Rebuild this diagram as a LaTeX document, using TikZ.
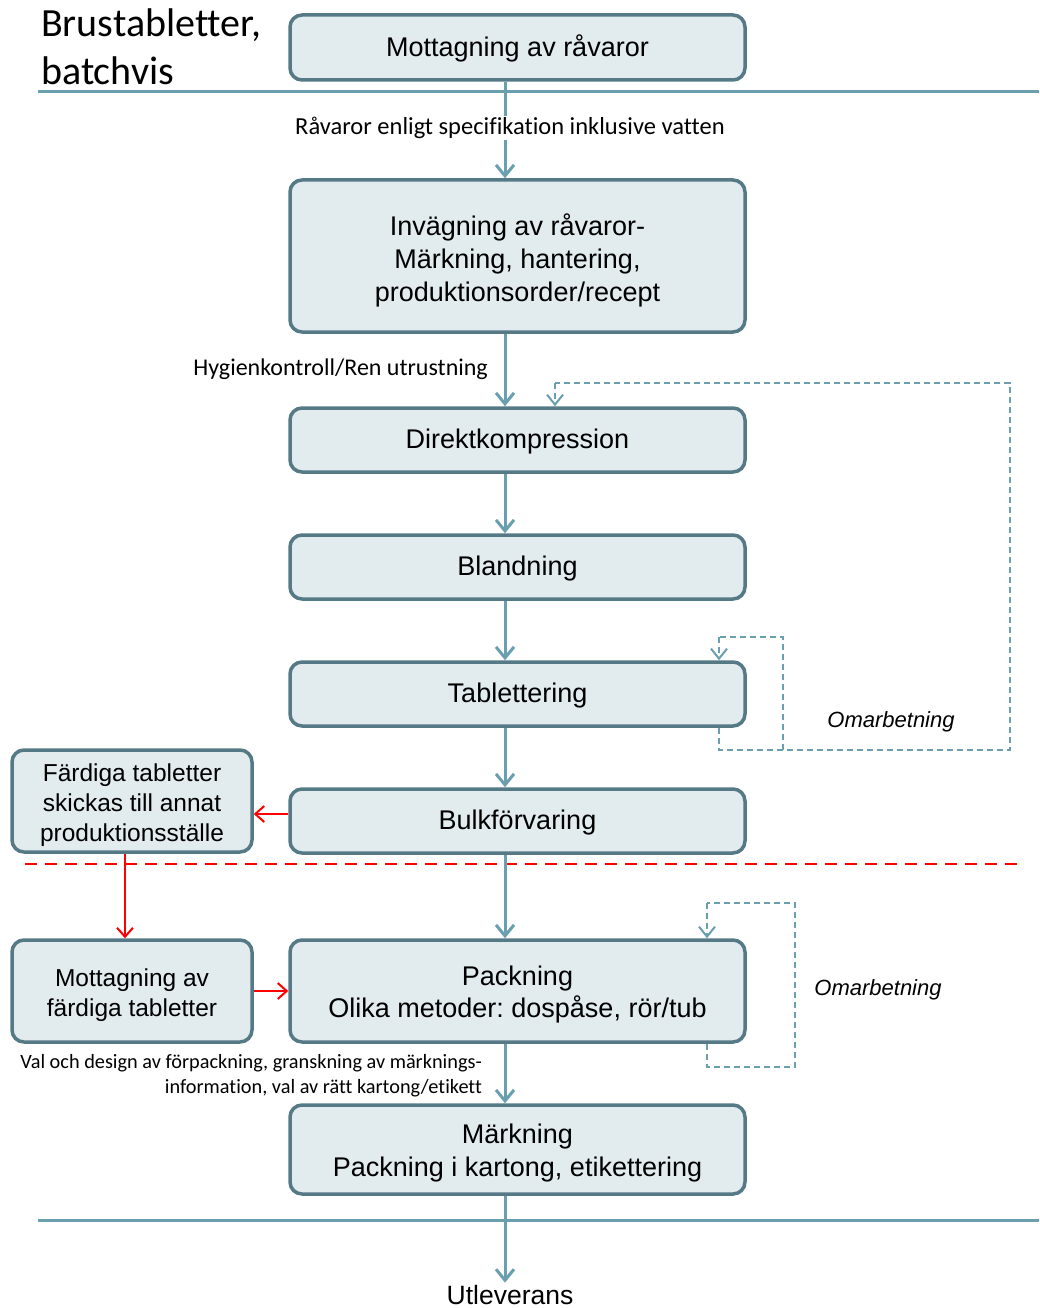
\documentclass[tikz,border=0pt]{standalone}
\usepackage{fontspec}
\setmainfont{Liberation Sans}
\newfontfamily\calfont[Ligatures=NoCommon]{Carlito}
\usetikzlibrary{arrows.meta,calc}
\definecolor{bord}{HTML}{557A86}
\definecolor{boxfill}{HTML}{E2EBEE}
\definecolor{conn}{HTML}{6A9FB0}
\frenchspacing
% lower a node's text: add extra height (#1) above its first line
\newcommand\dnline[2]{\setbox0\hbox{#2}\rule{0pt}{\dimexpr\ht0+#1\relax}\box0}
\begin{document}
\begin{tikzpicture}[x=1pt,y=-1pt,
 box/.style={draw=bord, fill=boxfill, line width=3.5pt, rounded corners=12pt, minimum width=455pt, align=center, font=\fontsize{27}{33}\selectfont, inner sep=0pt},
 sbox/.style={box, minimum width=240pt, minimum height=102pt, font=\fontsize{24.5}{30}\selectfont},
 flow/.style={draw=conn, line width=3pt, -{Straight Barb[length=11pt,width=18pt]}},
 redarr/.style={draw=red, line width=2pt, -{Straight Barb[length=9pt,width=16pt]}},
 rework/.style={draw=conn, line width=2pt, dash pattern=on 6pt off 4pt},
 reworkarr/.style={rework, -{Straight Barb[length=10pt,width=16pt]}},
 lbl/.style={font=\calfont\fontsize{24.5}{26}\selectfont, inner sep=1pt},
 note/.style={font=\itshape\fontsize{22}{26}\selectfont, inner sep=0pt},
 sep/.style={draw=conn, line width=3pt},
 ]
\useasboundingbox (0,0) rectangle (1039,1308);
\fill[white] (0,0) rectangle (1039,1308);

% title
\node[anchor=north west, align=left, inner sep=0pt, font=\calfont\fontsize{40}{48}\selectfont] (title) at (41,9) {Brustabletter,\\batchvis};

% separators
\draw[sep] (38,92) -- (1039,92);
\draw[sep] (38,1220) -- (1039,1220);
\draw[red, line width=2pt, dash pattern=on 12pt off 8pt] (25,864) -- (1022,864);

% boxes
\node[box, minimum height=65pt] (b1) at (517.5,47.5) {\dnline{2pt}{Mottagning av råvaror}};
\node[box, minimum height=152pt] (b2) at (517.5,256) {\dnline{8pt}{Invägning av råvaror-}\\Märkning, hantering,\\produktionsorder/recept};
\node[box, minimum height=64pt] (b3) at (517.5,440) {\dnline{4pt}{Direktkompression}};
\node[box, minimum height=64pt] (b4) at (517.5,567) {\dnline{4pt}{Blandning}};
\node[box, minimum height=64pt] (b5) at (517.5,694) {\dnline{4pt}{Tablettering}};
\node[box, minimum height=64pt] (b6) at (517.5,821) {\dnline{4pt}{Bulkförvaring}};
\node[sbox] (l1) at (132,801) {\dnline{9pt}{Färdiga tabletter}\\skickas till annat\\produktionsställe};
\node[sbox] (l2) at (132,991) {\dnline{8pt}{Mottagning av}\\färdiga tabletter};
\node[box, minimum height=102pt, font=\fontsize{27}{32}\selectfont] (b7) at (517.5,991) {\dnline{8pt}{Packning}\\Olika metoder: dospåse, rör/tub};
\node[box, minimum height=89pt] (b8) at (517.5,1149.5) {\dnline{7pt}{Märkning}\\Packning i kartong, etikettering};
\node[font=\fontsize{26.5}{32}\selectfont, inner sep=2pt, anchor=base] (ut) at (510,1304) {Utleverans};

% main flow
\coordinate (ax) at (505,0);
\draw[flow] (b1.south -| ax) -- (b2.north -| ax);
\node[lbl, fill=white] (t1) at (510,128) {Råvaror enligt specifikation inklusive vatten};
\draw[flow] (b2.south -| ax) -- (b3.north -| ax);
\node[lbl, anchor=east, font=\calfont\fontsize{24}{26}\selectfont] (t2) at (489,369) {Hygienkontroll/Ren utrustning};
\draw[flow] (b3.south -| ax) -- (b4.north -| ax);
\draw[flow] (b4.south -| ax) -- (b5.north -| ax);
\draw[flow] (b5.south -| ax) -- (b6.north -| ax);
\draw[flow] (b6.south -| ax) -- (b7.north -| ax);
\draw[flow] (b7.south -| ax) -- (b8.north -| ax);
\node[lbl, anchor=east, align=right, font=\calfont\fontsize{20.3}{25}\selectfont] (t3) at (483,1076) {Val och design av förpackning, granskning av märknings-\\information, val av rätt kartong/etikett};
\draw[flow] (b8.south -| ax) -- (ut.north -| ax);

% red flow
\coordinate (ry) at (0,814);
\coordinate (rx) at (125,0);
\draw[redarr] (b6.west |- ry) -- (l1.east |- ry);
\draw[redarr] (l1.south -| rx) -- (l2.north -| rx);
\draw[redarr] (l2.east) -- (b7.west |- l2.east);

% rework loops
\coordinate (xa) at (719,0);
\coordinate (xd) at (555,0);
\draw[rework] (b5.south -| xa) -- (719,750) -- (1010,750) -- (1010,383) -- (555,383);
\draw[reworkarr] (555,383) -- (b3.north -| xd);
\draw[rework] (783,750) -- (783,637) -- (719,637);
\draw[reworkarr] (719,637) -- (b5.north -| xa);
\node[note] (o1) at (891,722) {Omarbetning};

\coordinate (xe) at (707,0);
\draw[rework] (b7.south -| xe) -- (707,1067) -- (795,1067) -- (795,903) -- (707,903);
\draw[reworkarr] (707,903) -- (b7.north -| xe);
\node[note] (o2) at (878,990) {Omarbetning};
\end{tikzpicture}
\end{document}
